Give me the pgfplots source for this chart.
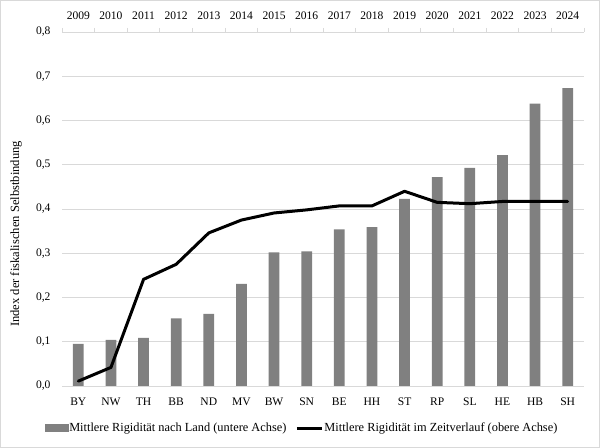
\documentclass[border=0pt]{standalone}
\usepackage{fontspec}
\setmainfont{Liberation Serif}
\usepackage{pgfplots}
\pgfplotsset{compat=1.18}
\definecolor{bargray}{RGB}{128,128,128}
\definecolor{gridgray}{RGB}{217,217,217}
\definecolor{framegray}{RGB}{217,217,217}
\pgfplotstableread{
x v
0 0.095
1 0.104
2 0.109
3 0.153
4 0.163
5 0.231
6 0.302
7 0.304
8 0.354
9 0.359
10 0.423
11 0.472
12 0.493
13 0.522
14 0.638
15 0.673
}\bardata
\pgfplotstableread{
x v
0 0.011
1 0.042
2 0.241
3 0.275
4 0.346
5 0.375
6 0.391
7 0.398
8 0.407
9 0.407
10 0.440
11 0.415
12 0.412
13 0.417
14 0.417
15 0.417
}\linedata
\begin{document}
\begin{tikzpicture}[x=1bp,y=1bp,font=\fontsize{11.6}{13}\selectfont]
\useasboundingbox (0,0) rectangle (600,448);
\draw[framegray,line width=0.8bp] (0.5,0.5) rectangle (599.5,447.5);
\begin{axis}[
  at={(62bp,62bp)}, anchor=south west,
  scale only axis, width=522bp, height=354bp,
  xmin=-0.5, xmax=15.5, ymin=0, ymax=0.8,
  xtick={0,...,15},
  xticklabels={BY,NW,TH,BB,ND,MV,BW,SN,BE,HH,ST,RP,SL,HE,HB,SH},
  ytick={0,0.1,...,0.8},
  yticklabel={\pgfmathprintnumber[fixed,fixed zerofill,precision=1,use comma]{\tick}},
  /pgf/number format/assume math mode=true,
  ymajorgrids, grid style={gridgray,line width=0.8bp},
  axis line style={draw=none},
  axis x line*=bottom, axis y line*=left,
  major tick length=0pt,
  xticklabel style={yshift=-8bp},
  yticklabel style={xshift=-8bp},
  ylabel={Index der fiskalischen Selbstbindung},
  every axis y label/.style={at={(-46bp,152bp)}, rotate=90, anchor=center,
    font=\fontsize{12.6}{14}\selectfont},
  clip=false,
  legend style={at={(0.459,-0.119)}, anchor=center, draw=none, fill=none,
    legend columns=2, /tikz/every even column/.append style={column sep=8bp},
    nodes={inner sep=1bp},
    font=\fontsize{12.4}{14}\selectfont},
  legend cell align=left,
]
\addplot[ybar, bar width=10.7bp, fill=bargray, draw=none, bar shift=0pt, forget plot]
  table[x=x,y=v]{\bardata};
\addlegendimage{legend image code/.code={\fill[bargray] (0bp,-3.5bp) rectangle (23bp,3.5bp);}}
\addlegendentry{Mittlere Rigidität nach Land (untere Achse)}
\addlegendimage{legend image code/.code={\draw[black, line width=3bp] (0bp,0bp) -- (25bp,0bp);}}
\addlegendentry{Mittlere Rigidität im Zeitverlauf (obere Achse)}
\end{axis}
\begin{axis}[
  at={(62bp,62bp)}, anchor=south west,
  scale only axis, width=522bp, height=354bp,
  xmin=-0.5, xmax=15.5, ymin=0, ymax=0.8,
  axis x line*=top, axis y line=none,
  x axis line style={gridgray, line width=0.8bp, -},
  xtick={0,...,15},
  xticklabels={2009,2010,2011,2012,2013,2014,2015,2016,2017,2018,2019,2020,2021,2022,2023,2024},
  extra x ticks={-0.5,0.5,...,15.5}, extra x tick labels={},
  extra x tick style={major tick length=4bp, tick style={gridgray, line width=0.8bp}, tick align=outside},
  major tick length=0pt,
  xticklabel style={yshift=9bp},
  /pgf/number format/assume math mode=true,
  clip=false,
]
\addplot[black, line width=3bp, line join=round, line cap=round, mark=none]
  table[x=x,y=v]{\linedata};
\end{axis}
\end{tikzpicture}
\end{document}
